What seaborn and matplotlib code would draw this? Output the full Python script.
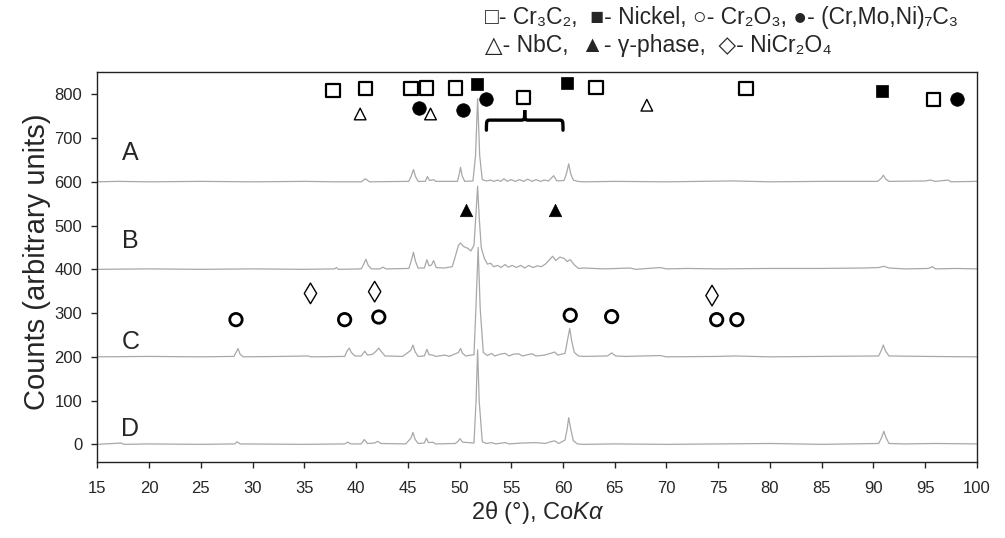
import numpy as np
import pandas as pd
import seaborn as sns
import matplotlib.pyplot as plt
from matplotlib.path import Path
from matplotlib.patches import PathPatch

# samples, their vertical offsets and where the A-D letters sit
samples = ['A', 'B', 'C', 'D']
offsets = [600, 400, 200, 0]
label_theta = 18.2
label_y = [665, 465, 235, 35]

# pattern A (2-theta in deg, counts above its baseline)
a_theta = [15, 17, 20, 25, 30, 35, 38, 40.5, 40.9, 41.3, 45.1, 45.35, 45.55, 45.75, 46.0,
           46.7, 46.9, 47.1, 47.5, 47.7, 49.8, 49.95, 50.1, 50.25, 50.5, 51.3, 51.55, 51.75,
           51.95, 52.2, 52.6, 53.0, 53.3, 53.7, 54.0, 54.3, 54.6, 55.0, 55.4, 55.8, 56.2, 56.6,
           57.0, 57.4, 57.8, 58.2, 58.6, 59.1, 59.4, 60.1, 60.35, 60.55, 60.75, 61.0, 61.4, 62,
           65, 70, 76.4, 80, 85, 90.4, 90.75, 90.95, 91.2, 91.5, 95, 95.5, 96, 97.2, 97.5, 100]
a_counts = [0, 1, 0, 1, 0, 1, 0, 0, 7, 0, 1, 14, 28, 12, 1,
            1, 12, 3, 5, 1, 1, 15, 33, 14, 1, 2, 60, 190,
            60, 5, 2, 4, 1, 4, 1, 7, 1, 5, 1, 5, 1, 6,
            1, 5, 1, 4, 2, 14, 2, 3, 20, 41, 18, 4, 1, 0,
            1, 0, 2, 0, 1, 1, 8, 15, 6, 1, 2, 4, 1, 4, 0, 1]

# pattern B
b_theta = [15, 20, 25, 30, 35, 37.9, 38.1, 38.3, 40.5, 40.75, 40.95, 41.2, 41.5, 42.3, 42.6,
           42.9, 45.1, 45.35, 45.55, 45.75, 46.0, 46.6, 46.85, 47.05, 47.3, 47.5, 47.75, 48.5,
           49.3, 49.6, 49.9, 50.1, 50.4, 50.8, 51.1, 51.4, 51.6, 51.75, 51.9, 52.1, 52.4, 52.7,
           53.0, 53.3, 53.7, 54.0, 54.4, 54.7, 55.1, 55.5, 55.9, 56.3, 56.7, 57.1, 57.5, 57.9,
           58.3, 58.7, 59.0, 59.3, 59.7, 60.1, 60.4, 60.7, 61.1, 61.5, 62, 64, 66.5, 67, 69.4,
           70, 72, 75, 80, 85, 89, 90.5, 91, 91.5, 93, 95.3, 95.7, 96, 98, 100]
b_counts = [0, 1, 0, 1, 0, 1, 4, 0, 1, 12, 23, 8, 1, 1, 5,
            1, 2, 20, 39, 18, 3, 3, 22, 8, 10, 20, 4, 3,
            6, 30, 55, 60, 52, 48, 42, 55, 130, 190, 120, 50, 25, 12,
            14, 6, 9, 4, 11, 5, 9, 4, 9, 3, 9, 4, 8, 6,
            12, 22, 30, 20, 28, 25, 18, 22, 10, 2, 3, 1, 3, 0, 4,
            1, 2, 1, 2, 2, 3, 4, 7, 3, 1, 2, 6, 1, 2, 1]

# pattern C
c_theta = [15, 20, 25, 28.2, 28.45, 28.6, 28.8, 29.1, 33, 35.4, 35.6, 38.9, 39.15, 39.35,
           39.55, 39.9, 40.5, 40.85, 41.1, 41.6, 41.9, 42.2, 42.45, 42.8, 44.5, 45.3, 45.5,
           45.7, 46.0, 46.6, 46.85, 47.05, 47.4, 47.7, 48.6, 49.0, 49.9, 50.1, 50.3, 50.6, 51.4,
           51.6, 51.8, 52.0, 52.3, 52.7, 53.1, 53.4, 53.9, 54.4, 54.8, 55.2, 55.7, 56.1, 56.6,
           57.0, 57.4, 58.2, 58.8, 59.2, 59.5, 60.2, 60.45, 60.65, 60.85, 61.1, 61.5, 62, 64.3,
           64.7, 65.1, 66, 69.4, 70, 75, 76.5, 80, 85, 90.5, 90.75, 90.95, 91.15, 91.5, 95, 100]
c_counts = [0, 1, 0, 1, 12, 19, 6, 0, 1, 2, 0, 1, 14, 20,
            10, 2, 2, 13, 4, 6, 12, 20, 12, 2, 1, 15, 27,
            12, 1, 2, 17, 5, 4, 1, 4, 1, 10, 19, 8, 2, 5,
            120, 250, 110, 10, 3, 8, 2, 6, 8, 2, 6, 7, 2, 5,
            7, 2, 4, 8, 11, 4, 8, 40, 65, 35, 10, 2, 1, 2,
            9, 2, 1, 3, 0, 1, 2, 0, 1, 2, 14, 27, 14, 2, 1, 0]

# pattern D
d_theta = [15, 17.3, 17.6, 20, 25, 28.3, 28.5, 28.8, 35, 38.9, 39.2, 39.5, 40.5, 40.8, 41.1,
           41.8, 42.1, 42.4, 44.8, 45.3, 45.5, 45.7, 46.0, 46.6, 46.8, 47.0, 47.4, 47.7, 49.6,
           49.9, 50.05, 50.3, 51.4, 51.6, 51.75, 51.9, 52.2, 52.6, 53.1, 53.5, 54.4, 54.8, 56,
           57.4, 58.3, 58.8, 59.2, 59.6, 60.2, 60.4, 60.55, 60.75, 61.0, 61.4, 62, 65, 70, 75,
           80, 85, 90.5, 90.8, 91.0, 91.2, 91.5, 93, 96, 100]
d_counts = [0, 3, 0, 1, 0, 1, 6, 1, 0, 1, 5, 1, 1, 11, 2,
            3, 7, 2, 1, 14, 27, 12, 2, 3, 14, 4, 5, 1, 2,
            8, 13, 5, 3, 100, 216, 100, 6, 2, 4, 1, 4, 1, 3,
            4, 2, 6, 8, 2, 10, 35, 61, 35, 8, 1, 0, 1, 0, 1,
            2, 0, 2, 16, 30, 16, 2, 1, 2, 1]

# phase markers (2-theta, height on the counts axis)
cr3c2_x = [37.8, 40.9, 45.3, 46.8, 49.6, 56.2, 63.2, 77.7, 95.8]
cr3c2_y = [809, 813, 813, 814, 814, 793, 816, 813, 788]
nickel_x = [51.65, 60.4, 90.85]
nickel_y = [824, 826, 807]
cr2o3_x = [28.4, 38.9, 42.2, 60.7, 64.7, 74.85, 76.8]
cr2o3_y = [285, 285, 291, 295, 292, 285, 285]
m7c3_x = [46.1, 50.3, 52.6, 98.1]
m7c3_y = [768, 763, 790, 790]
nbc_x = [40.4, 47.2, 68.1]
nbc_y = [755, 755, 775]
gamma_x = [50.6, 59.2]
gamma_y = [535, 535]
nicr2o4_x = [35.6, 41.8, 74.4]
nicr2o4_y = [345, 349, 340]

# brace over the 52-60 deg region
brace_span = [52.6, 60.0]
brace_levels = [718, 741, 764]

sns.set_style('ticks')
plt.rcParams['font.family'] = ['Liberation Sans', 'DejaVu Sans']
plt.rcParams['mathtext.fontset'] = 'custom'
plt.rcParams['mathtext.rm'] = 'Liberation Sans'
plt.rcParams['mathtext.it'] = 'Liberation Sans:italic'

frames = []
for name, off, th, ct in zip(samples, offsets,
                             [a_theta, b_theta, c_theta, d_theta],
                             [a_counts, b_counts, c_counts, d_counts]):
    frames.append(pd.DataFrame({'sample': name, 'two_theta': th,
                                'counts': np.array(ct) + off}))
df = pd.concat(frames, ignore_index=True)

fig = plt.figure(figsize=(10.05, 5.38), dpi=100)
ax = fig.add_axes([0.0968, 0.1407, 0.8753, 0.7255])

sns.lineplot(data=df, x='two_theta', y='counts', units='sample', estimator=None,
             sort=False, color='#a8a8a8', linewidth=0.9, ax=ax)

def phase(x, y, marker, s, filled, lw):
    sns.scatterplot(x=x, y=y, marker=marker, s=s, color='black',
                    facecolor='black' if filled else 'none',
                    edgecolor='black', linewidth=lw, ax=ax, zorder=5)

phase(cr3c2_x, cr3c2_y, 's', 95, False, 1.6)
phase(nickel_x, nickel_y, 's', 80, True, 0.5)
phase(cr2o3_x, cr2o3_y, 'o', 80, False, 2.0)
phase(m7c3_x, m7c3_y, 'o', 95, True, 0.5)
phase(nbc_x, nbc_y, '^', 70, False, 1.0)
phase(gamma_x, gamma_y, '^', 80, True, 0.5)
phase(nicr2o4_x, nicr2o4_y, 'd', 110, False, 1.0)

# brace
x0, x1 = brace_span
y_end, y_arm, y_tip = brace_levels
xm = (x0 + x1) / 2
d = 0.45
verts = [(x0, y_end), (x0, y_arm), (x0, y_arm), (x0 + d, y_arm),
         (xm - d, y_arm), (xm, y_arm), (xm, y_arm), (xm, y_tip),
         (xm, y_arm), (xm, y_arm), (xm + d, y_arm),
         (x1 - d, y_arm), (x1, y_arm), (x1, y_arm), (x1, y_end)]
codes = [Path.MOVETO, Path.CURVE4, Path.CURVE4, Path.CURVE4,
         Path.LINETO, Path.CURVE4, Path.CURVE4, Path.CURVE4,
         Path.CURVE4, Path.CURVE4, Path.CURVE4,
         Path.LINETO, Path.CURVE4, Path.CURVE4, Path.CURVE4]
ax.add_patch(PathPatch(Path(verts, codes), facecolor='none', edgecolor='black',
                       linewidth=2.4, capstyle='round', zorder=5))

for name, yy in zip(samples, label_y):
    ax.text(label_theta, yy, name, fontsize=18, ha='center', va='center')

ax.set_xlim(15, 100)
ax.set_ylim(-41, 851)
ax.set_xticks(np.arange(15, 101, 5))
ax.set_yticks(np.arange(0, 801, 100))
ax.tick_params(axis='x', direction='out', length=4.3, width=1, labelsize=12, pad=9)
ax.tick_params(axis='y', direction='out', length=4.3, width=1, labelsize=12, pad=6.5)
for sp in ax.spines.values():
    sp.set_linewidth(1)
    sp.set_color('#222222')

ax.set_xlabel(r'2θ (°), Co$\mathit{K\alpha}$', fontsize=17)
ax.set_ylabel('Counts (arbitrary units)', fontsize=21)
ax.xaxis.set_label_coords(0.5, -0.093)
ax.yaxis.set_label_coords(-0.053, 0.515)

fig.text(0.4826, 0.968, '□- Cr₃C₂,  ■- Nickel, ○- Cr₂O₃, ●- (Cr,Mo,Ni)₇C₃',
         fontsize=16.5, ha='left', va='center')
fig.text(0.4826, 0.915, '△- NbC,  ▲- γ-phase,  ◇- NiCr₂O₄',
         fontsize=16.5, ha='left', va='center')

fig.savefig('out.png', dpi=100)
